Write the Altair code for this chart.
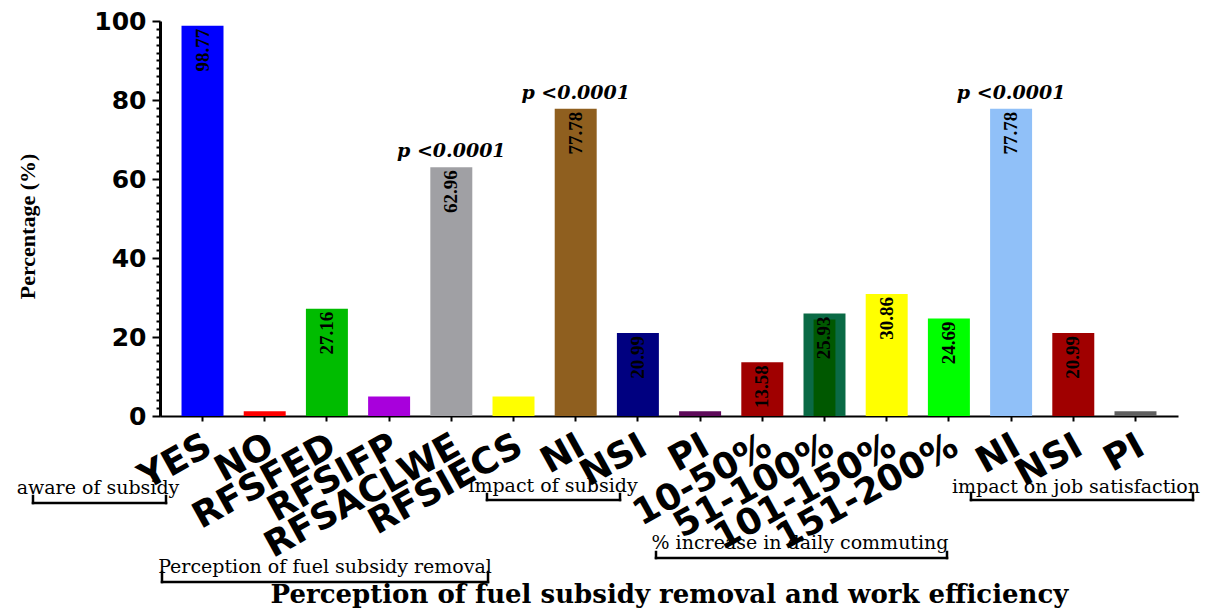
import altair as alt
import pandas as pd

# ---------------- data ----------------
labels = ["YES", "NO", "RFSFED", "RFSIFP", "RFSACLWE", "RFSIECS", "NI", "NSI", "PI",
          "10-50%", "51-100%", "101-150%", "151-200%", "NI", "NSI", "PI"]
values = [98.77, 1.23, 27.16, 4.94, 62.96, 4.94, 77.78, 20.99, 1.23,
          13.58, 25.93, 30.86, 24.69, 77.78, 20.99, 1.23]
colors = ["#0000FF", "#FF0000", "#00BC00", "#A800DC", "#A0A0A4", "#FFFF00", "#8F5F1F",
          "#000080", "#5E0A5A", "#A00000", "#0A6A45", "#FFFF00", "#00FF00", "#90C0F8",
          "#A00000", "#606060"]
p_text = ["", "", "", "", "p <0.0001", "", "p <0.0001", "", "",
          "", "", "", "", "p <0.0001", "", ""]
value_text = [f"{v:.2f}" for v in values]
keys = [f"{i:02d}|{l}" for i, l in enumerate(labels)]

# group annotations (text, centre x, baseline y, bracket x0, x1, bracket y, bracket top) in plot pixels
groups = [
    ("aware of subsidy", -62, 473, -127, 6, 482, 475),
    ("impact of subsidy", 393, 471, 327, 460, 479, 473),
    ("Perception of fuel subsidy removal", 165, 552, 2, 328, 561, 551),
    ("% increase in daily commuting", 640, 528, 496, 787, 537, 531),
    ("impact on job satisfaction", 916, 472, 811, 1033, 479, 472),
]

df = pd.DataFrame(dict(key=keys, label=labels, value=values, vtext=value_text, ptext=p_text))
ann_df = pd.DataFrame([dict(text=g[0], x=g[1], y=g[2]) for g in groups])
seg_rows = []
for g in groups:
    _, _, _, x0, x1, yh, yt = g
    seg_rows.append(dict(x=x0, x2=x1, y=yh, y2=yh))
    seg_rows.append(dict(x=x0, x2=x0, y=yt, y2=yh))
    seg_rows.append(dict(x=x1, x2=x1, y=yt, y2=yh))
seg_df = pd.DataFrame(seg_rows)

W, H = 1018, 395

x_scale = alt.Scale(domain=keys, paddingInner=0.325, paddingOuter=0.346)
x_axis = alt.Axis(
    labelExpr="split(datum.label, '|')[1]",
    labelAngle=-29, labelAlign="right", labelBaseline="top",
    labelFont="DejaVu Sans", labelFontSize=36, labelFontWeight="bold",
    labelColor="black", labelPadding=7, labelOffset=-2, labelLimit=400,
    labelOverlap=False, labelFlush=False,
    tickSize=5, tickWidth=2, tickColor="black",
    domainWidth=2, domainColor="black", grid=False,
    titleFont="DejaVu Serif", titleFontSize=26, titleFontWeight="bold", titleColor="black",
    titleY=186, titleBaseline="alphabetic",
)
y_scale = alt.Scale(domain=[0, 100], nice=False)
y_axis = alt.Axis(
    values=list(range(0, 101, 2)),
    labelExpr="datum.value % 20 === 0 ? datum.label : ''",
    labelFont="DejaVu Sans", labelFontSize=25, labelFontWeight="bold", labelColor="black",
    labelPadding=6, labelOverlap=False, labelFlush=False,
    tickSize={"condition": {"test": "datum.value % 20 === 0", "value": 8}, "value": 4},
    tickWidth=2, tickColor="black", domainWidth=3, domainColor="black", grid=False,
    titleFont="Liberation Serif", titleFontSize=22, titleFontWeight="bold", titleColor="black",
    titleX=-133, titleY=205, titleBaseline="middle",
)
XT = "Perception of fuel subsidy removal and work efficiency"
YT = "Percentage (%)"


def xe():
    return alt.X("key:N", sort=keys, scale=x_scale, axis=x_axis, title=XT)


def ye(field="value"):
    return alt.Y(f"{field}:Q", scale=y_scale, axis=y_axis, title=YT)


base = alt.Chart(df)

bars = base.mark_bar().encode(
    x=xe(), y=ye(),
    color=alt.Color("key:N", scale=alt.Scale(domain=keys, range=colors), legend=None),
)

inner = base.transform_filter("datum.label === '51-100%'").transform_calculate(
    inner="datum.value - 1.5"
).mark_bar(width=alt.RelativeBandSize(0.52), color="#005800").encode(x=xe(), y=ye("inner"))

vlabels = base.transform_filter("datum.value > 10").mark_text(
    angle=270, align="right", baseline="middle", dx=-3,
    font="Liberation Serif", fontSize=19, fontWeight="bold", color="black",
).encode(x=xe(), y=ye(), text="vtext:N")

plabels = base.transform_filter("datum.ptext !== ''").mark_text(
    align="center", baseline="bottom", dy=-6,
    font="DejaVu Serif", fontSize=19, fontWeight="bold", fontStyle="italic", color="black",
).encode(x=xe(), y=ye(), text="ptext:N")

ann_text = alt.Chart(ann_df).mark_text(
    font="DejaVu Serif", fontSize=19, align="center", baseline="alphabetic", color="black"
).encode(
    x=alt.X("x:Q", scale=None, axis=None),
    y=alt.Y("y:Q", scale=None, axis=None),
    text="text:N",
)

ann_rules = alt.Chart(seg_df).mark_rule(color="black", strokeWidth=2.5, strokeCap="square").encode(
    x=alt.X("x:Q", scale=None, axis=None),
    x2="x2:Q",
    y=alt.Y("y:Q", scale=None, axis=None),
    y2="y2:Q",
)

main = alt.layer(bars, inner, vlabels, plabels)
ann = alt.layer(ann_text, ann_rules)

chart = alt.layer(main, ann).resolve_scale(x="independent", y="independent").properties(
    width=W, height=H,
    autosize=alt.AutoSizeParams(type="none"),
    padding={"left": 152, "top": 13, "right": 30, "bottom": 193},
    background="white",
).configure_view(stroke=None)

chart.save("out.html", embed_options={"renderer": "svg", "actions": False})
